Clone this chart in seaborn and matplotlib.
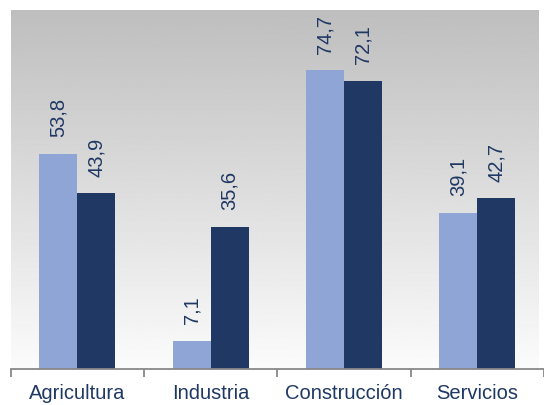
import seaborn as sns
import matplotlib.pyplot as plt
import numpy as np
import pandas as pd

sectores = ["Agricultura", "Industria", "Construcción", "Servicios"]
serie_a = [53.8, 7.1, 74.7, 39.1]
serie_b = [43.9, 35.6, 72.1, 42.7]

df = pd.DataFrame({
    "sector": sectores * 2,
    "valor": serie_a + serie_b,
    "serie": ["A"] * 4 + ["B"] * 4,
})

sns.set_style("white")
plt.rcParams['font.family'] = ['Liberation Sans', 'DejaVu Sans']

fig = plt.figure(figsize=(5.44, 4.05), dpi=100)
# plot area is cut off at the right edge of the image
ax = fig.add_axes([10.5 / 544, 36 / 405, 533.5 / 544, 359 / 405])
xmax = -0.5 + 533.5 / 135

sns.barplot(data=df, x="sector", y="valor", hue="serie",
            palette=["#8FA5D6", "#1F3864"], width=0.57, gap=0,
            saturation=1, legend=False, ax=ax, zorder=2,
            edgecolor="none", linewidth=0)

for cont in ax.containers:
    labels = [f"{v:.1f}".replace(".", ",") for v in cont.datavalues]
    ax.bar_label(cont, labels=labels, rotation=90, padding=12,
                 fontsize=14.5, color="#1F3864", zorder=3)

# gradient background, gray on top to white at the bottom
grad = np.linspace(0.745, 0.985, 256).reshape(-1, 1)
ax.imshow(grad, cmap="gray", vmin=0, vmax=1, aspect="auto",
          extent=[-0.5, xmax, 0, 90], origin="upper", zorder=0)

ax.set_xlim(-0.5, xmax)
ax.set_ylim(0, 89.75)
ax.set_xlabel("")
ax.set_ylabel("")
ax.set_yticks([])
ax.set_xticks(np.arange(-0.5, 4, 1), minor=False)
ax.set_xticklabels([])
ax.set_xticks(range(4), minor=True)
ax.set_xticklabels(sectores, minor=True, fontsize=14.5, color="#1F3864")
ax.tick_params(axis="x", which="major", length=6, width=1.3, color="#888888", bottom=True)
ax.tick_params(axis="x", which="minor", length=0, pad=11)
for s in ["top", "left", "right"]:
    ax.spines[s].set_visible(False)
ax.spines["bottom"].set_color("#888888")
ax.spines["bottom"].set_linewidth(1.3)

fig.savefig("out.png", dpi=100)
